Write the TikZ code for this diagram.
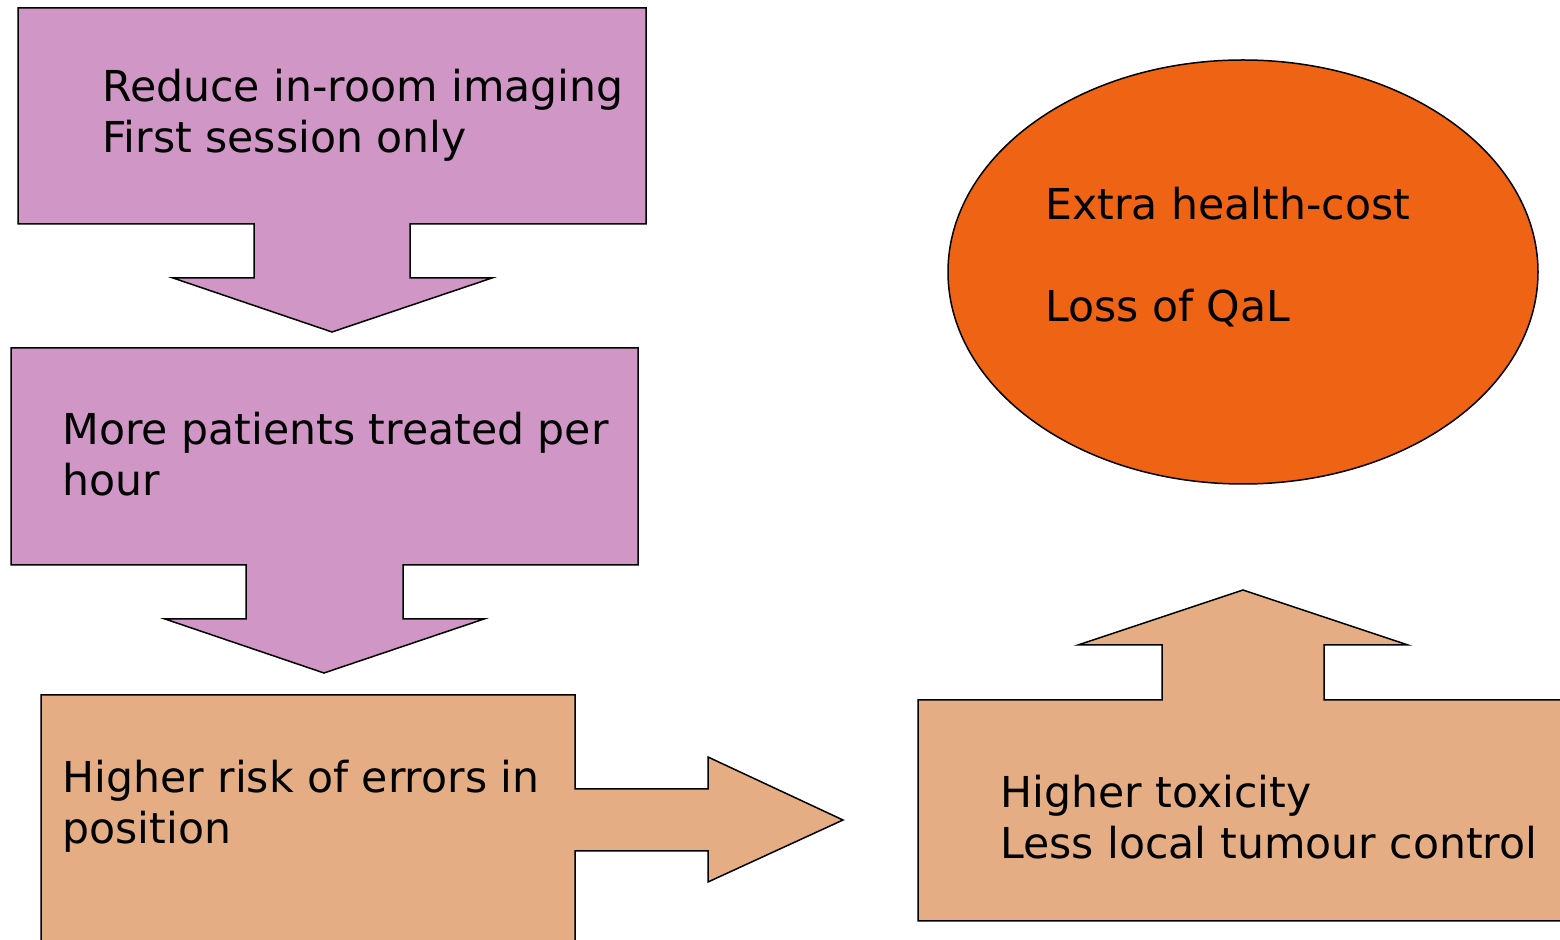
\documentclass[tikz,border=0pt]{standalone}
\usepackage{fontspec}
\setmainfont{DejaVu Sans}
\definecolor{lilac}{HTML}{D096C6}
\definecolor{sand}{HTML}{E5AD84}
\definecolor{flame}{HTML}{EE6314}
\begin{document}
\begin{tikzpicture}[x=0.5pt,y=-0.5pt,
  shapeline/.style={draw=black,line width=0.75pt,line join=miter},
  label/.style={anchor=base west,inner sep=0pt,align=left,
    font=\fontsize{21.3}{25.5}\selectfont}]
\useasboundingbox (0,0) rectangle (1560,940);

% box with downward arrow: imaging
\path[shapeline,fill=lilac]
  (18,8) -- (646,8) -- (646,224) -- (410,224) -- (410,278) -- (492,278)
  -- (332,332) -- (173,278) -- (254,278) -- (254,224) -- (18,224) -- cycle;
% box with downward arrow: throughput
\path[shapeline,fill=lilac]
  (11,348) -- (638,348) -- (638,565) -- (403,565) -- (403,619) -- (484,619)
  -- (324,673) -- (165,619) -- (246,619) -- (246,565) -- (11,565) -- cycle;
% box with right arrow: positioning errors
\path[shapeline,fill=sand]
  (41,950) -- (41,695) -- (575,695) -- (575,789) -- (708,789) -- (708,757)
  -- (843,820) -- (708,882) -- (708,851) -- (575,851) -- (575,950);
% box with upward arrow: outcomes
\path[shapeline,fill=sand]
  (1562,921) -- (918,921) -- (918,700) -- (1162,700) -- (1162,645) -- (1078,645)
  -- (1243,590) -- (1408,645) -- (1324,645) -- (1324,700) -- (1562,700);
% consequences
\path[shapeline,fill=flame] (1243,272) ellipse [x radius=295, y radius=212];

% labels, anchored at the baseline of their last line
\node[label] (imaging) at (102,153) {Reduce in-room imaging\\First session only};
\node[label] (patients) at (62,496) {More patients treated per\\hour};
\node[label] (errors) at (62,844) {Higher risk of errors in\\position};
\node[label] (toxicity) at (1000,859) {Higher toxicity\\Less local tumour control};
\node[label] (cost) at (1045,322) {Extra health-cost\\[25.5pt]Loss of QaL};
\end{tikzpicture}
\end{document}
